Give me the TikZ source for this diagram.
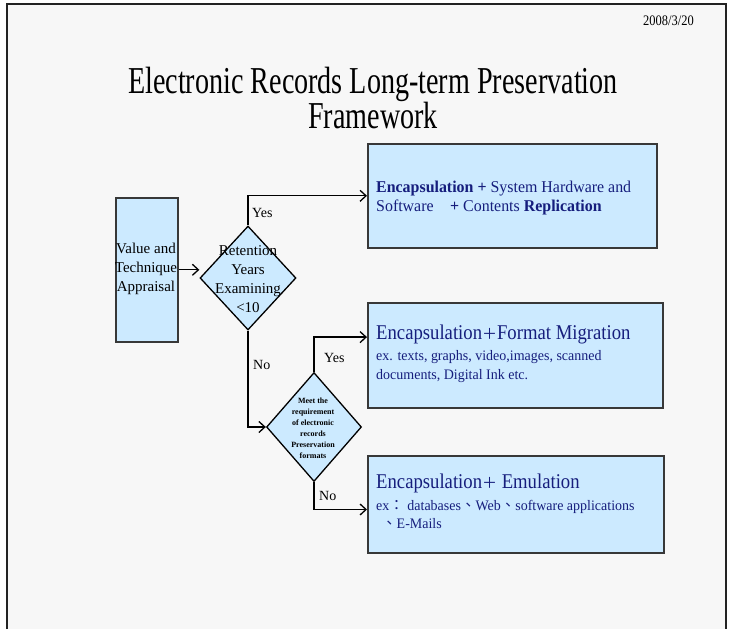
\documentclass[tikz,border=0pt]{standalone}
\usepackage{fontspec}
\setmainfont{Liberation Serif}
\newfontfamily\condfont[FakeStretch=0.74]{Liberation Serif}
\newfontfamily\datefont[FakeStretch=0.86]{Liberation Serif}
\newfontfamily\headfont[FakeStretch=0.89]{Liberation Serif}
\newfontfamily\bodyfont[FakeStretch=0.965]{Liberation Serif}
\newfontfamily\cjk{Noto Sans CJK TC}
\usetikzlibrary{arrows.meta,shapes.geometric}
\definecolor{bg}{RGB}{247,247,247}
\definecolor{boxfill}{RGB}{204,234,255}
\definecolor{navy}{RGB}{22,30,125}
\definecolor{frame}{RGB}{34,34,34}
\begin{document}
\begin{tikzpicture}[x=1pt,y=-1pt,
  box/.style={draw=frame!90,line width=1.6pt,fill=boxfill,inner sep=0pt,anchor=north west},
  dia/.style={draw=black,line width=1.3pt,fill=boxfill,diamond,inner sep=0pt},
  conn/.style={line width=1.3pt,-{Straight Barb[length=6pt,width=11pt,line width=1.3pt]}},
  lbl/.style={font=\fontsize{14}{16}\selectfont,inner sep=0pt},
  boxtext/.style={anchor=north west,align=left,text=navy,inner sep=0pt}]
\useasboundingbox (0,0) rectangle (730,629);
\fill[white] (0,0) rectangle (730,629);
\fill[bg] (7,4) rectangle (726,629);
\draw[frame,line width=2.4pt] (7,629) -- (7,4) -- (726,4) -- (726,629);
% date
\node[anchor=base east,inner sep=0pt,font=\datefont\fontsize{14.5}{15}\selectfont] (date) at (694,25) {2008/3/20};
% title
\node[inner sep=0pt,align=center,font=\condfont\fontsize{38}{35}\selectfont] (title) at (373,98)
  {Electronic Records Long-term Preservation\\Framework};
% boxes
\node[box,minimum width=62,minimum height=144] (b0) at (115,197) {};
\node[align=center,inner sep=0pt,font=\fontsize{15}{19}\selectfont] (b0t) at (146,269) {Value and\\Technique\\Appraisal};
\node[box,minimum width=289,minimum height=104] (b1) at (367,143) {};
\node[box,minimum width=295,minimum height=105] (b2) at (367,302) {};
\node[box,minimum width=296,minimum height=97] (b3) at (367,455) {};
% diamonds
\node[dia,minimum width=96,minimum height=104] (d1) at (248,278) {};
\node[align=center,inner sep=0pt,font=\fontsize{15}{19}\selectfont] (d1t) at (248,279) {Retention\\Years\\Examining\\<10};
\node[dia,minimum width=95,minimum height=109] (d2) at (314,427) {};
\node[align=center,inner sep=0pt,font=\bfseries\fontsize{8}{11}\selectfont] (d2t) at (313,428)
  {Meet the\\requirement\\of electronic\\records\\Preservation\\formats};
% box texts
\node[boxtext,font=\bodyfont\fontsize{16.5}{19}\selectfont] (b1t) at (376,181)
  {\textbf{Encapsulation +} System Hardware and\\Software\quad\textbf{+} Contents \textbf{Replication}};
\node[boxtext,font=\headfont\fontsize{21}{22}\selectfont] (b2h) at (376,325)
  {Encapsulation{\cjk\fontsize{15}{16}\selectfont ＋}Format Migration};
\node[boxtext,font=\bodyfont\fontsize{14.5}{19.5}\selectfont] (b2t) at (376,350)
  {ex. texts, graphs, video,images, scanned\\documents, Digital Ink etc.};
\node[boxtext,font=\headfont\fontsize{21}{22}\selectfont] (b3h) at (376,474)
  {Encapsulation{\cjk\fontsize{15}{16}\selectfont ＋} Emulation};
\node[boxtext,font=\bodyfont\fontsize{14.5}{18.5}\selectfont] (b3t) at (376,500)
  {ex{\cjk ：} databases{\cjk 、}Web{\cjk 、}software applications\\\hspace*{6pt}{\cjk 、}E-Mails};
% connectors
\draw[conn] (b0.east) -- (b0.east -| d1.west);
\draw[conn] (d1.north) |- (b1.west);
\draw[conn] (d1.south) |- (d2.west);
\draw[conn] (d2.north) |- (b2.173.2);
\draw[conn] (d2.south) |- (b3.182.5);
% labels
\node[lbl,anchor=west] (yes1) at (252,213) {Yes};
\node[lbl,anchor=west] (no1) at (253,365) {No};
\node[lbl,anchor=west] (yes2) at (324,358) {Yes};
\node[lbl,anchor=west] (no2) at (319,496) {No};
\end{tikzpicture}
\end{document}
